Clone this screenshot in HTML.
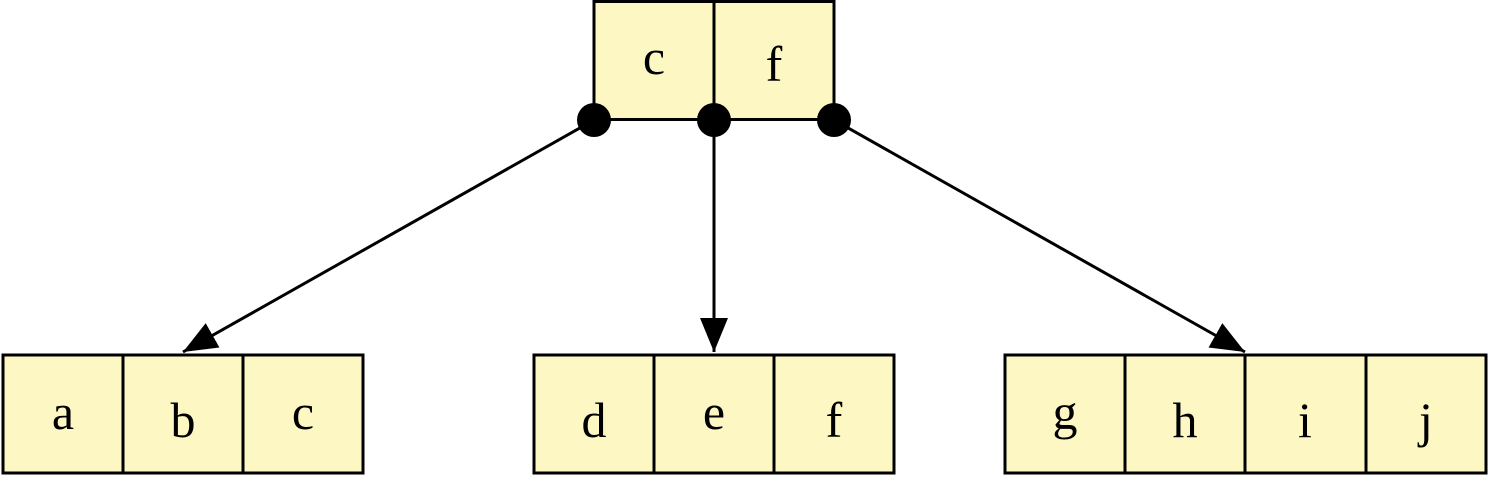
<!DOCTYPE html>
<html><head><style>body{margin:0;background:#fff}</style></head><body>
<svg width="1488" height="476" viewBox="0 0 1488 476" xmlns="http://www.w3.org/2000/svg">
<defs>
<marker id="b" markerWidth="34" markerHeight="28" refX="34" refY="14" orient="auto" markerUnits="userSpaceOnUse"><path d="M0,0 L34,14 L0,28 z" fill="#000"/></marker></defs>
<g fill="#fdf8c3" stroke="#000" stroke-width="3">
<rect x="594" y="1.5" width="120" height="118"/><rect x="714" y="1.5" width="120" height="118"/>
<rect x="3" y="355" width="120" height="118"/><rect x="123" y="355" width="120" height="118"/><rect x="243" y="355" width="120" height="118"/>
<rect x="534" y="355" width="120" height="118"/><rect x="654" y="355" width="120" height="118"/><rect x="774" y="355" width="120" height="118"/>
<rect x="1005" y="355" width="120" height="118"/><rect x="1125" y="355" width="120" height="118"/><rect x="1245" y="355" width="121" height="118"/><rect x="1366" y="355" width="120" height="118"/>
</g>
<g stroke="#000" stroke-width="3" fill="none">
<line x1="594" y1="120" x2="183" y2="352" marker-end="url(#b)"/>
<line x1="714" y1="120" x2="714" y2="352" marker-end="url(#b)"/>
<line x1="834" y1="120" x2="1245" y2="352" marker-end="url(#b)"/>
</g>
<g fill="#000"><circle cx="594" cy="120" r="17"/><circle cx="714" cy="120" r="17"/><circle cx="834" cy="120" r="17"/></g>
<g font-family="Liberation Serif, serif" font-size="50" text-anchor="middle">
<text x="654" y="74">c</text><text x="774" y="81">f</text>
<text x="63" y="429">a</text><text x="183" y="437">b</text><text x="303" y="429">c</text>
<text x="594" y="437">d</text><text x="714" y="429">e</text><text x="834" y="437">f</text>
<text x="1065" y="429">g</text><text x="1185" y="437">h</text><text x="1305" y="437">i</text><text x="1426" y="437">j</text>
</g>
</svg>
</body></html>
